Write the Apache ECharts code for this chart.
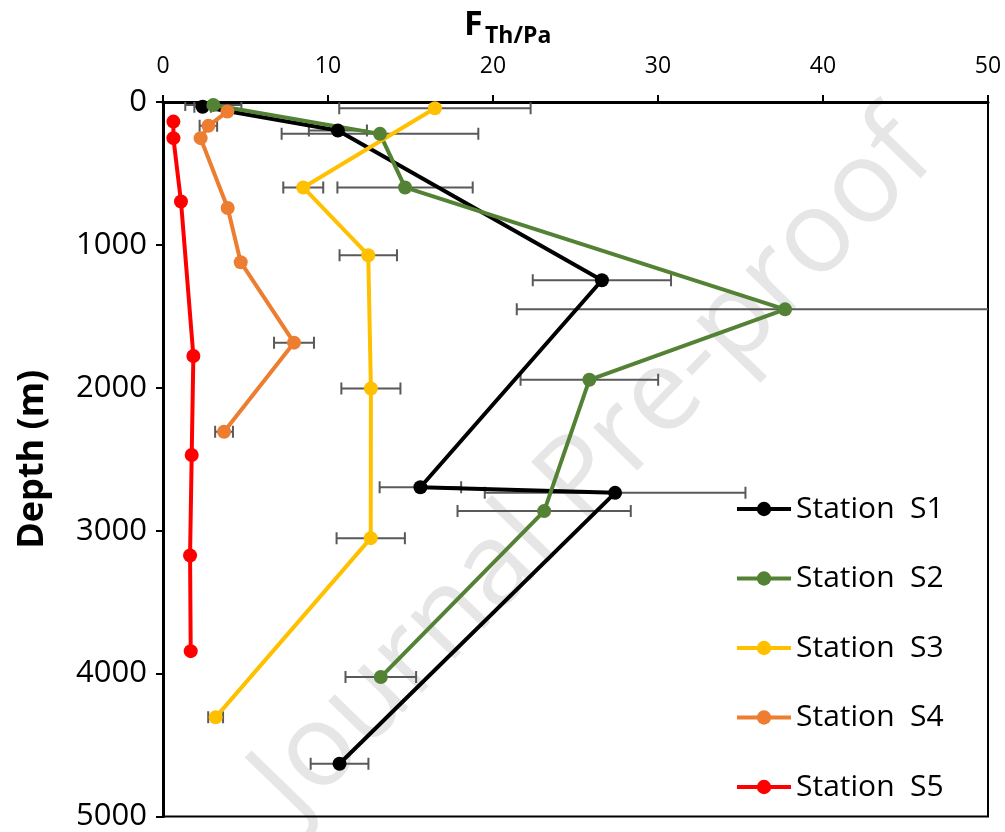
<!DOCTYPE html>
<html>
<head>
<meta charset="utf-8">
<script src="https://cdn.jsdelivr.net/npm/echarts@6/dist/echarts.min.js"></script>
<style>html,body{margin:0;padding:0;background:#fff;}#c{width:1005px;height:832px;}</style>
</head>
<body>
<div id="c"></div>
<script>
// ---- data ----
const stationNames = ['Station  S1', 'Station  S2', 'Station  S3', 'Station  S4', 'Station  S5'];
const stationColors = ['#000000', '#548235', '#FFC000', '#ED7D31', '#FF0000'];

const s1Flux  = [2.4, 10.6, 26.6, 15.6, 27.4, 10.7];
const s1Depth = [33, 200, 1247, 2696, 2735, 4631];
const s1Err   = [0.5, 1.76, 4.19, 2.47, 7.9, 1.75];

const s2Flux  = [3.05, 13.15, 14.67, 37.7, 25.84, 23.1, 13.2];
const s2Depth = [21, 223, 598, 1451, 1944, 2863, 4024];
const s2Err   = [1.7, 5.96, 4.1, 16.26, 4.17, 5.25, 2.14];

const s3Flux  = [16.48, 8.5, 12.44, 12.6, 12.59, 3.19];
const s3Depth = [44, 598, 1072, 2005, 3052, 4306];
const s3Err   = [5.8, 1.21, 1.74, 1.79, 2.07, 0.45];

const s4Flux  = [3.9, 2.75, 2.28, 3.92, 4.71, 7.94, 3.70];
const s4Depth = [67, 167, 253, 742, 1121, 1684, 2308];
const s4Err   = [0, 0.53, 0, 0, 0, 1.21, 0.54];

const s5Flux  = [0.63, 0.63, 1.09, 1.84, 1.74, 1.64, 1.68];
const s5Depth = [137, 253, 696, 1777, 2470, 3174, 3843];
const s5Err   = [0, 0, 0, 0, 0, 0, 0];

const xTicks = [0, 10, 20, 30, 40, 50];
const yTicks = [0, 1000, 2000, 3000, 4000, 5000];

// ---- build ----
const FONT = 'Open Sans';
const stations = [
  [s1Flux, s1Depth, s1Err],
  [s2Flux, s2Depth, s2Err],
  [s3Flux, s3Depth, s3Err],
  [s4Flux, s4Depth, s4Err],
  [s5Flux, s5Depth, s5Err]
];

const lineSeries = stations.map((st, i) => ({
  name: stationNames[i],
  type: 'line',
  data: st[0].map((x, j) => [x, st[1][j]]),
  symbol: 'circle',
  symbolSize: 14,
  lineStyle: { color: stationColors[i], width: 4 },
  itemStyle: { color: stationColors[i] },
  z: 5,
  animation: false
}));

const errData = [];
stations.forEach(st => {
  st[0].forEach((x, j) => { if (st[2][j] > 0) errData.push([x, st[1][j], st[2][j]]); });
});

const errSeries = {
  type: 'custom',
  name: 'err',
  data: errData,
  encode: { x: 0, y: 1 },
  z: 3,
  clip: true,
  silent: true,
  animation: false,
  renderItem: function (params, api) {
    const x = api.value(0), y = api.value(1), e = api.value(2);
    const p1 = api.coord([x - e, y]);
    const p2 = api.coord([x + e, y]);
    const right = params.coordSys.x + params.coordSys.width;
    const cap = 6;
    const style = { stroke: '#595959', lineWidth: 2, fill: null };
    const children = [
      { type: 'line', shape: { x1: p1[0], y1: p1[1], x2: Math.min(p2[0], right), y2: p2[1] }, style: style },
      { type: 'line', shape: { x1: p1[0], y1: p1[1] - cap, x2: p1[0], y2: p1[1] + cap }, style: style }
    ];
    if (p2[0] <= right) {
      children.push({ type: 'line', shape: { x1: p2[0], y1: p2[1] - cap, x2: p2[0], y2: p2[1] + cap }, style: style });
    }
    return { type: 'group', children: children };
  }
};

const chart = echarts.init(document.getElementById('c'), null, { renderer: 'canvas' });
chart.setOption({
  backgroundColor: '#fff',
  animation: false,
  grid: { left: 163, right: 17, top: 102, bottom: 13, show: true, borderColor: '#000', borderWidth: 2, backgroundColor: 'transparent' },
  xAxis: {
    type: 'value', position: 'top', min: xTicks[0], max: xTicks[xTicks.length - 1], interval: 10,
    axisLine: { show: true, onZero: false, lineStyle: { color: '#000', width: 3 } },
    axisTick: { show: true, length: 7, lineStyle: { color: '#000', width: 2 } },
    axisLabel: { color: '#000', fontSize: 23, fontFamily: FONT, margin: 24 },
    splitLine: { show: false }
  },
  yAxis: {
    type: 'value', inverse: true, min: yTicks[0], max: yTicks[yTicks.length - 1], interval: 1000,
    name: 'Depth (m)', nameLocation: 'middle', nameRotate: 90, nameGap: 112,
    nameTextStyle: { color: '#000', fontSize: 36, fontWeight: 'bold', fontFamily: FONT },
    axisLine: { show: true, onZero: false, lineStyle: { color: '#000', width: 3 } },
    axisTick: { show: true, length: 7, lineStyle: { color: '#000', width: 2 } },
    axisLabel: { color: '#000', fontSize: 31, fontFamily: FONT, margin: 16, formatter: v => String(v) },
    splitLine: { show: false }
  },
  legend: {
    data: stationNames,
    orient: 'vertical',
    left: 730, top: 489,
    itemWidth: 54, itemHeight: 18,
    itemGap: 39.5,
    lineStyle: { width: 4 },
    textStyle: { color: '#000', fontSize: 30, fontFamily: FONT, lineHeight: 30 },
    selectedMode: false
  },
  graphic: [
    {
      type: 'text', z: -10, silent: true,
      x: 594, y: 468, rotation: Math.PI / 4 * 1.02,
      style: { text: 'Journal Pre-proof', fill: '#e6e6e6', fontSize: 115, fontFamily: FONT, align: 'center', verticalAlign: 'middle' }
    },
    {
      type: 'text', x: 464, y: 8,
      style: { text: 'F', fill: '#000', fontSize: 34, fontWeight: 'bold', fontFamily: FONT }
    },
    {
      type: 'text', x: 485, y: 25,
      style: { text: 'Th/Pa', fill: '#000', fontSize: 23, fontWeight: 'bold', fontFamily: FONT }
    }
  ],
  series: [errSeries].concat(lineSeries)
});
</script>
</body>
</html>
